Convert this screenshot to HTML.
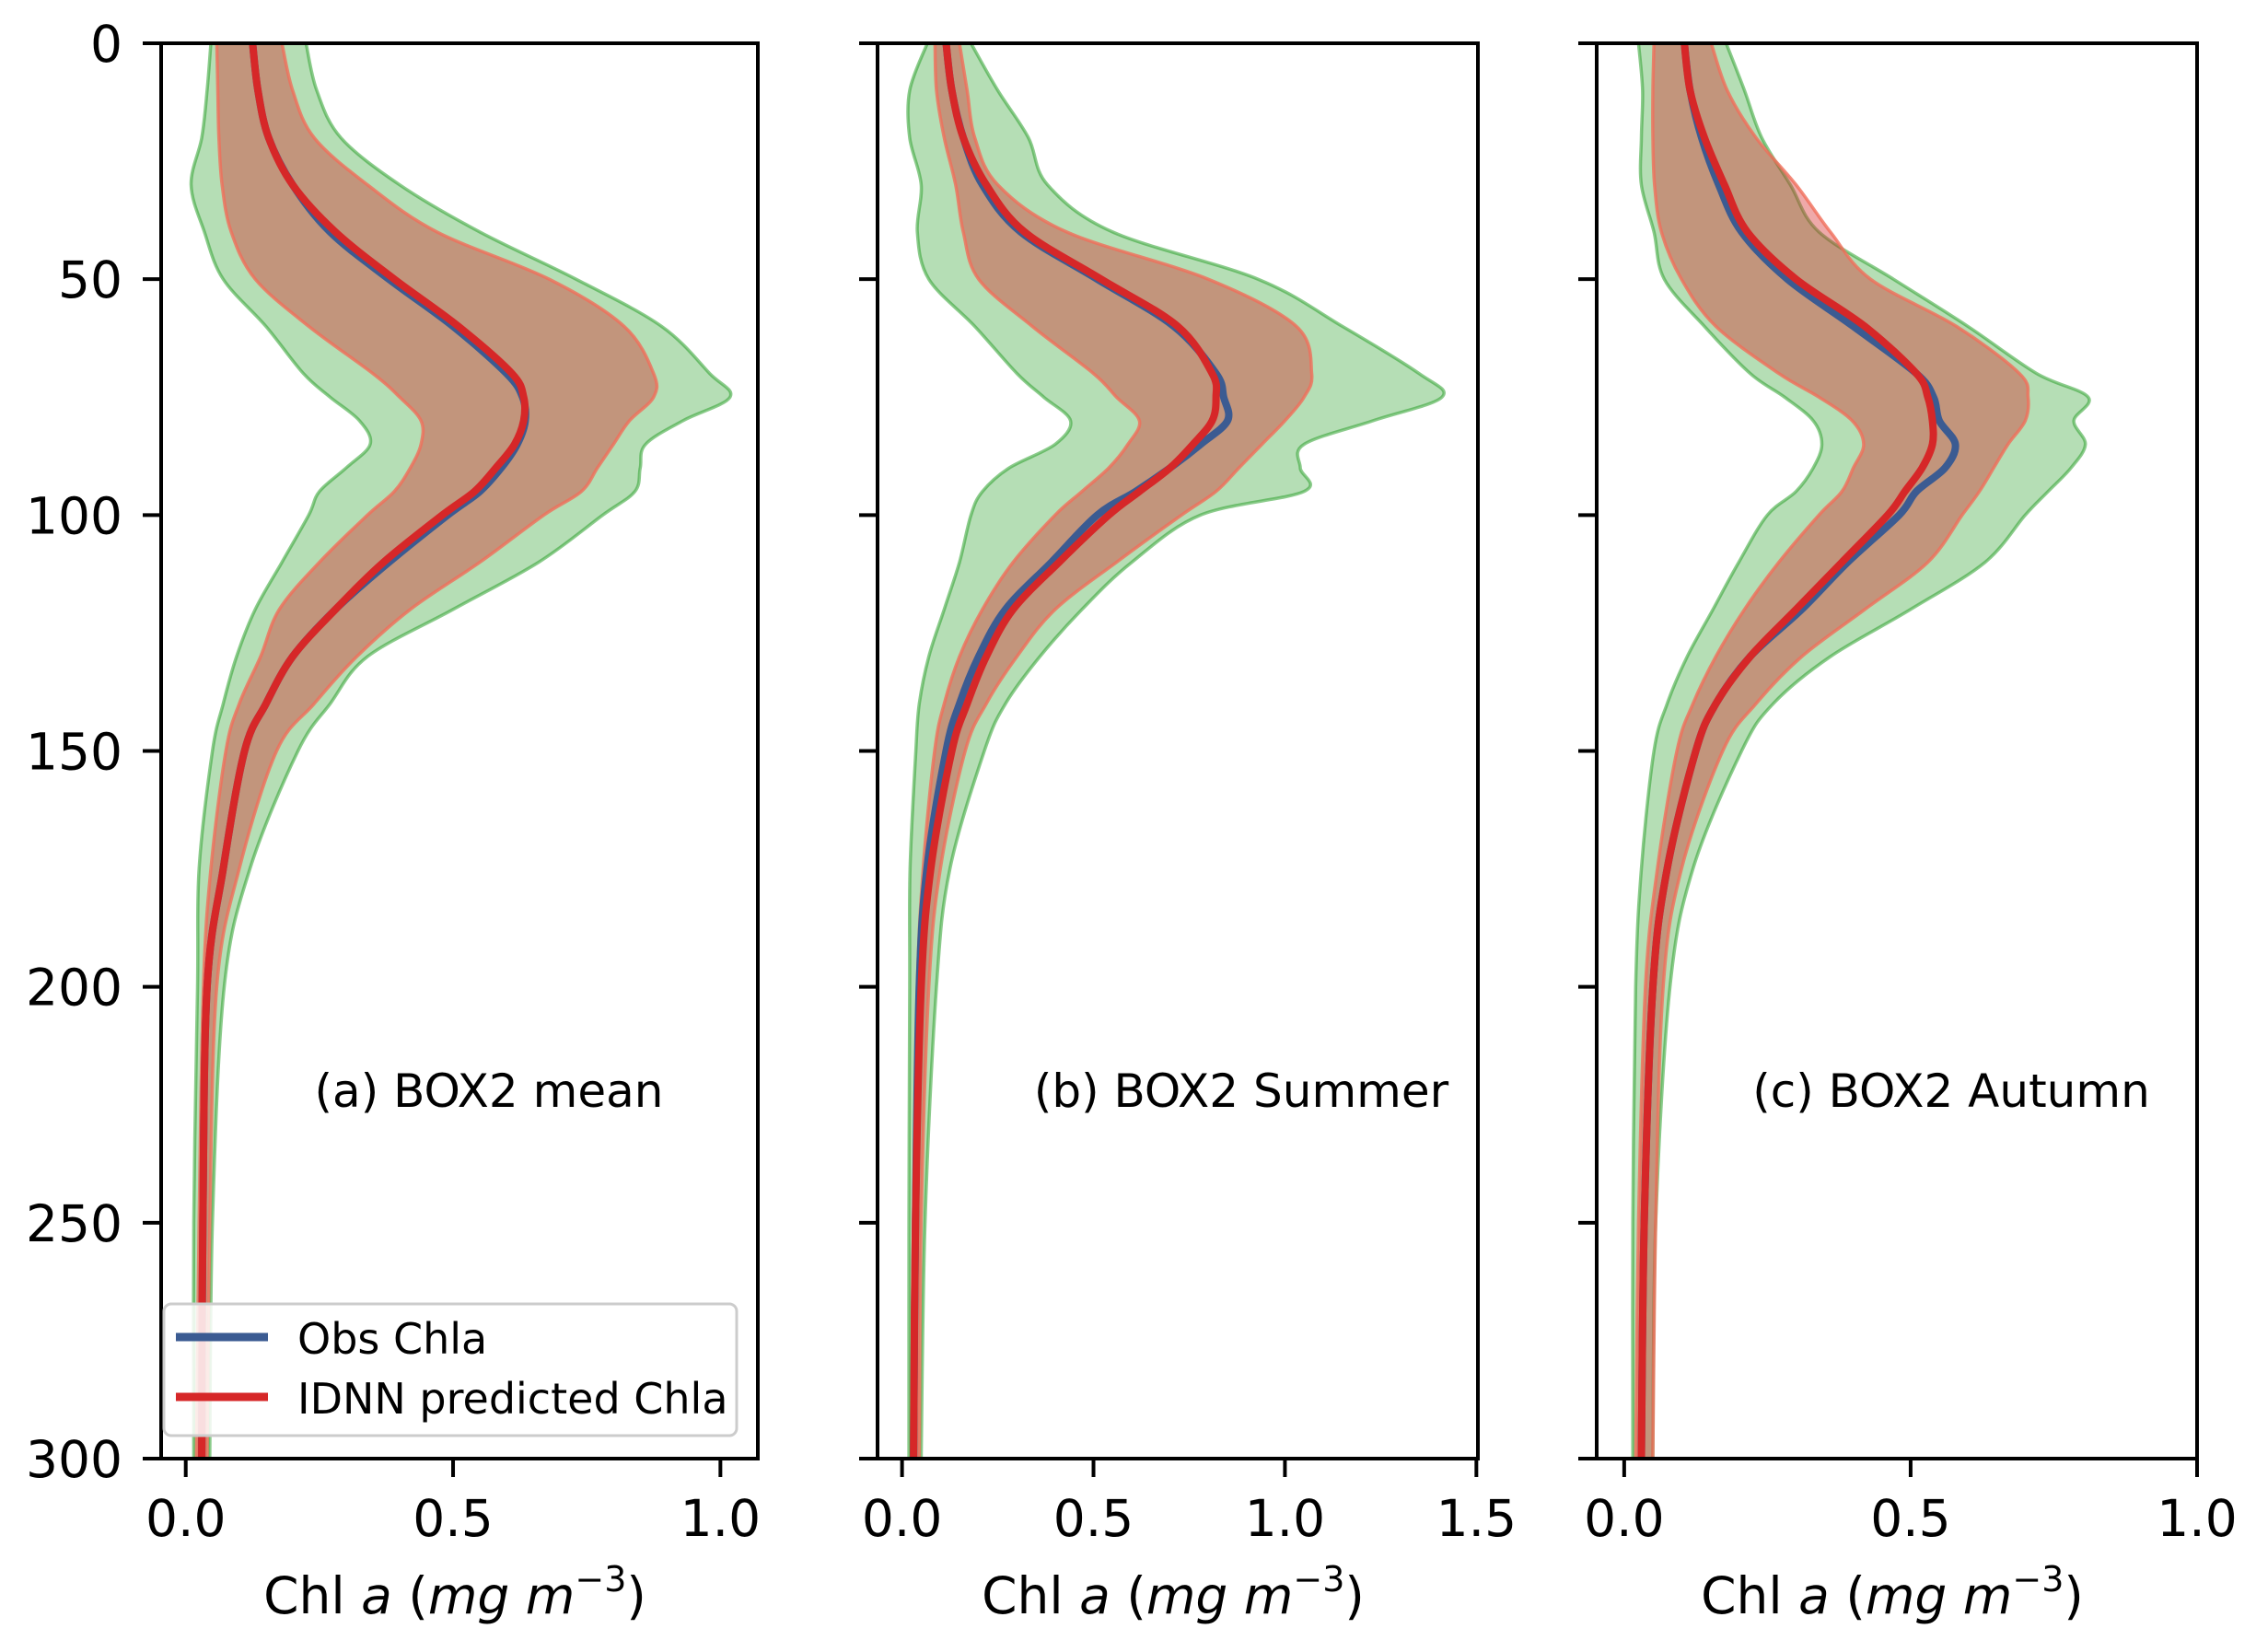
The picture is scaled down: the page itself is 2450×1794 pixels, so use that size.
<!DOCTYPE html>
<html><head><meta charset="utf-8">
<style>
html,body{margin:0;padding:0;background:#fff;}
svg{display:block;font-family:"DejaVu Sans","Liberation Sans",sans-serif;}
</style></head>
<body>
<svg id="chart" width="2450" height="1794" viewBox="0 0 2450 1794" xmlns="http://www.w3.org/2000/svg"></svg>
<script>
const depths = [0,10,20,30,40,50,60,70,75,80,85,90,95,100,110,120,130,140,150,175,200,250,300];
const yTicks = [0,50,100,150,200,250,300];
const p1Pred = [0.125,0.135,0.155,0.20,0.28,0.39,0.51,0.61,0.632,0.632,0.615,0.58,0.54,0.48,0.37,0.28,0.20,0.15,0.11,0.07,0.04,0.032,0.03];
const p1Obs  = [0.125,0.135,0.155,0.20,0.27,0.38,0.50,0.60,0.63,0.635,0.62,0.59,0.55,0.49,0.38,0.28,0.20,0.15,0.11,0.07,0.04,0.032,0.03];
const p1RedLo = [0.058,0.06,0.062,0.068,0.085,0.13,0.23,0.35,0.40,0.44,0.44,0.42,0.39,0.34,0.25,0.175,0.14,0.10,0.075,0.047,0.033,0.025,0.02];
const p1RedHi = [0.18,0.20,0.24,0.34,0.47,0.68,0.82,0.875,0.875,0.83,0.80,0.77,0.74,0.67,0.55,0.42,0.32,0.24,0.17,0.10,0.058,0.045,0.04];
const p1GrnLo = [0.047,0.04,0.03,0.01,0.035,0.07,0.15,0.22,0.27,0.325,0.345,0.30,0.25,0.23,0.18,0.13,0.095,0.07,0.05,0.025,0.022,0.015,0.015];
const p1GrnHi = [0.225,0.245,0.29,0.40,0.55,0.73,0.89,0.98,1.018,0.93,0.86,0.85,0.84,0.78,0.66,0.50,0.34,0.27,0.21,0.12,0.072,0.05,0.045];
const p2Pred = [0.115,0.13,0.16,0.22,0.32,0.52,0.72,0.81,0.82,0.81,0.76,0.70,0.62,0.54,0.41,0.29,0.22,0.17,0.13,0.075,0.05,0.035,0.03];
const p2Obs  = [0.115,0.13,0.16,0.21,0.31,0.51,0.71,0.82,0.84,0.85,0.78,0.70,0.61,0.51,0.39,0.27,0.20,0.15,0.115,0.065,0.045,0.035,0.03];
const p2RedLo = [0.086,0.09,0.11,0.14,0.16,0.20,0.34,0.50,0.56,0.62,0.59,0.54,0.47,0.40,0.29,0.21,0.15,0.11,0.085,0.055,0.04,0.03,0.025];
const p2RedHi = [0.15,0.17,0.19,0.25,0.43,0.80,1.03,1.07,1.05,1.00,0.94,0.88,0.82,0.73,0.56,0.40,0.30,0.22,0.165,0.10,0.07,0.05,0.045];
const p2GrnLo = [0.066,0.02,0.02,0.05,0.04,0.07,0.19,0.30,0.37,0.44,0.40,0.28,0.21,0.18,0.15,0.11,0.07,0.045,0.036,0.021,0.02,0.018,0.018];
const p2GrnHi = [0.18,0.25,0.33,0.38,0.55,0.93,1.15,1.35,1.41,1.23,1.05,1.04,1.05,0.78,0.60,0.47,0.36,0.27,0.215,0.125,0.09,0.06,0.05];
const p3Pred = [0.105,0.115,0.14,0.175,0.215,0.30,0.42,0.51,0.53,0.538,0.538,0.52,0.49,0.46,0.38,0.30,0.22,0.16,0.125,0.075,0.05,0.035,0.03];
const p3Obs  = [0.105,0.115,0.135,0.165,0.205,0.285,0.40,0.51,0.54,0.55,0.578,0.56,0.51,0.48,0.39,0.31,0.22,0.16,0.125,0.075,0.05,0.035,0.03];
const p3RedLo = [0.052,0.05,0.05,0.053,0.065,0.10,0.16,0.27,0.34,0.398,0.418,0.40,0.38,0.34,0.27,0.21,0.16,0.12,0.092,0.058,0.037,0.025,0.02];
const p3RedHi = [0.152,0.18,0.23,0.30,0.36,0.43,0.58,0.69,0.705,0.70,0.67,0.645,0.62,0.59,0.53,0.42,0.31,0.23,0.172,0.10,0.068,0.055,0.05];
const p3GrnLo = [0.025,0.032,0.03,0.03,0.052,0.07,0.14,0.22,0.28,0.33,0.345,0.33,0.30,0.25,0.20,0.155,0.11,0.075,0.052,0.03,0.02,0.015,0.015];
const p3GrnHi = [0.178,0.21,0.24,0.29,0.34,0.47,0.60,0.72,0.81,0.785,0.805,0.78,0.74,0.70,0.63,0.50,0.36,0.26,0.205,0.12,0.08,0.055,0.05];
const p1XTicks = [0.0,0.5,1.0];
const p2XTicks = [0.0,0.5,1.0,1.5];
const p3XTicks = [0.0,0.5,1.0];
const panelLabels = ["(a) BOX2 mean","(b) BOX2 Summer","(c) BOX2 Autumn"];

const NS="http://www.w3.org/2000/svg";
const svg=document.getElementById('chart');
function mk(tag,attrs,parent){const e=document.createElementNS(NS,tag);for(const k in attrs)e.setAttribute(k,attrs[k]);(parent||svg).appendChild(e);return e;}

const TOP=47,BOT=1584;
const yScale=d=>TOP+(d/300)*(BOT-TOP);
const panels=[
 {L:175,R:823,xmin:-0.046,xmax:1.07,ticks:p1XTicks,pred:p1Pred,obs:p1Obs,rl:p1RedLo,rh:p1RedHi,gl:p1GrnLo,gh:p1GrnHi,ylab:true,lab:panelLabels[0],lx:531},
 {L:953,R:1605,xmin:-0.064,xmax:1.504,ticks:p2XTicks,pred:p2Pred,obs:p2Obs,rl:p2RedLo,rh:p2RedHi,gl:p2GrnLo,gh:p2GrnHi,ylab:false,lab:panelLabels[1],lx:1348},
 {L:1734,R:2386,xmin:-0.048,xmax:1.0,ticks:p3XTicks,pred:p3Pred,obs:p3Obs,rl:p3RedLo,rh:p3RedHi,gl:p3GrnLo,gh:p3GrnHi,ylab:false,lab:panelLabels[2],lx:2119}
];

function smooth(pts){
  let d=`M${pts[0][0]},${pts[0][1]}`;
  for(let i=0;i<pts.length-1;i++){
    const p0=pts[Math.max(0,i-1)],p1=pts[i],p2=pts[i+1],p3=pts[Math.min(pts.length-1,i+2)];
    const c1=[p1[0]+(p2[0]-p0[0])/6,p1[1]+(p2[1]-p0[1])/6];
    const c2=[p2[0]-(p3[0]-p1[0])/6,p2[1]-(p3[1]-p1[1])/6];
    d+=` C${c1[0].toFixed(1)},${c1[1].toFixed(1)} ${c2[0].toFixed(1)},${c2[1].toFixed(1)} ${p2[0].toFixed(1)},${p2[1].toFixed(1)}`;
  }
  return d;
}

panels.forEach((p,pi)=>{
  const xs=v=>p.L+(v-p.xmin)/(p.xmax-p.xmin)*(p.R-p.L);
  const g=mk('g',{});
  
  
  const cid='clip'+pi;
  const cp=mk('clipPath',{id:cid},g);
  mk('rect',{x:p.L,y:TOP,width:p.R-p.L,height:BOT-TOP},cp);
  const pg=mk('g',{'clip-path':`url(#${cid})`},g);
  function band(lo,hi,fill,stroke,name){
    const left=depths.map((d,i)=>[xs(lo[i]),yScale(d)]);
    const right=depths.map((d,i)=>[xs(hi[i]),yScale(d)]).reverse();
    const path=smooth(left)+' L'+smooth(right).slice(1)+' Z';
    const e=mk('path',{d:path,fill:fill,stroke:stroke,'stroke-width':3.5},pg);
    
    
  }
  band(p.gl,p.gh,'rgba(44,160,44,0.35)','rgba(44,160,44,0.55)','obs-std-band');
  band(p.rl,p.rh,'rgba(214,39,40,0.4)','rgba(240,110,90,0.8)','pred-std-band');
  const ob=mk('path',{d:smooth(depths.map((d,i)=>[xs(p.obs[i]),yScale(d)])),fill:'none',stroke:'#3b5b92','stroke-width':8},pg);
  
  
  const pr=mk('path',{d:smooth(depths.map((d,i)=>[xs(p.pred[i]),yScale(d)])),fill:'none',stroke:'#d62728','stroke-width':8},pg);
  
  
  const fr=mk('rect',{x:p.L,y:TOP,width:p.R-p.L,height:BOT-TOP,fill:'none',stroke:'#000','stroke-width':4},g);
  
  
  yTicks.forEach(t=>{
    const y=yScale(t);
    mk('line',{x1:p.L-20,x2:p.L,y1:y,y2:y,stroke:'#000','stroke-width':4},g);
    if(p.ylab){
      const tx=mk('text',{x:p.L-42,y:y+20,'text-anchor':'end','font-size':55,fill:'#000'},g);
      tx.textContent=String(t);
      
      
    }
  });
  p.ticks.forEach(t=>{
    const x=xs(t);
    mk('line',{x1:x,x2:x,y1:BOT,y2:BOT+20,stroke:'#000','stroke-width':4},g);
    const tx=mk('text',{x:x,y:1668,'text-anchor':'middle','font-size':55,fill:'#000'},g);
    tx.textContent=t.toFixed(1);
    
    
  });
  const xl=mk('text',{x:(p.L+p.R)/2-5,y:1752,'text-anchor':'middle','font-size':55,fill:'#000'},g);
  xl.innerHTML='Chl <tspan font-style="italic">a</tspan> (<tspan font-style="italic">mg m</tspan><tspan font-size="38" dy="-24">−3</tspan><tspan dy="24">)</tspan>';
  
  
  const an=mk('text',{x:p.lx,y:1202,'text-anchor':'middle','font-size':50,fill:'#000'},g);
  an.textContent=p.lab;
  
  
});

const lg=mk('g',{});


mk('rect',{x:178,y:1416,width:622,height:143,rx:8,fill:'rgba(255,255,255,0.85)',stroke:'#ccc','stroke-width':3},lg);
mk('line',{x1:191,x2:291,y1:1452,y2:1452,stroke:'#3b5b92','stroke-width':9},lg);
mk('line',{x1:191,x2:291,y1:1517,y2:1517,stroke:'#d62728','stroke-width':9},lg);
const t1=mk('text',{x:323,y:1470,'font-size':46,fill:'#000'},lg);
t1.textContent='Obs Chla';


const t2=mk('text',{x:323,y:1535,'font-size':46,fill:'#000'},lg);
t2.textContent='IDNN predicted Chla';


</script>
</body></html>
